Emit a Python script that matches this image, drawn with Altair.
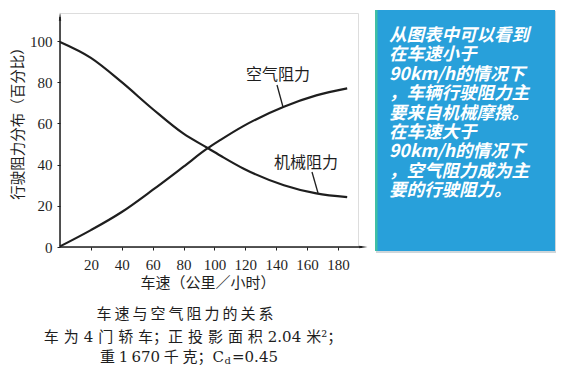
import altair as alt
import pandas as pd

# ---- data ----
speed = [0, 20, 40, 60, 80, 95, 104, 119, 145, 166, 186]
mech_res = [99.5, 91.8, 80, 67, 55, 48.3, 44.3, 38, 30, 26, 24.2]
air_res = [0.3, 8.2, 17, 27.7, 39, 47.6, 52, 58.8, 68.1, 73.6, 77]
x_ticks = [20, 40, 60, 80, 100, 120, 140, 160, 180]
y_ticks = [0, 20, 40, 60, 80, 100]

series_names = ["机械阻力", "空气阻力"]
y_title = "行驶阻力分布（百分比）"
x_title = "车速（公里／小时）"
caption1 = "车\u2009速\u2009与\u2009空\u2009气\u2009阻\u2009力\u2009的\u2009关\u2009系"
caption2 = "车\u2004为\u20044\u2004门\u2004轿\u2004车；正\u2004投\u2004影\u2004面\u2004积\u20042.04\u2004米²；"
caption3a = "重\u20051\u2009670\u2005千\u2005克；C"
caption3b = "d"
caption3c = "=0.45"
box_lines = [
    "从图表中可以看到",
    "在车速小于",
    "90km/h的情况下",
    "，车辆行驶阻力主",
    "要来自机械摩擦。",
    "在车速大于",
    "90km/h的情况下",
    "，空气阻力成为主",
    "要的行驶阻力。",
]

df = pd.DataFrame({
    "speed": speed + speed,
    "value": mech_res + air_res,
    "series": [series_names[0]] * len(speed) + [series_names[1]] * len(speed),
})

W, H = 298, 234
INK = "#1e1e1e"
NUMFONT = "Liberation Serif, Noto Sans CJK SC"
CAPFONT = "DejaVu Serif, Noto Sans CJK SC"
CJK = "Noto Sans CJK SC"
one = alt.Data(values=[{}])


def txt(text, x, y, **kw):
    return alt.Chart(one).mark_text(text=text, **kw).encode(x=alt.value(x), y=alt.value(y))


lines = alt.Chart(df).mark_line(
    color=INK, strokeWidth=2.2, interpolate="monotone"
).encode(
    x=alt.X("speed:Q", scale=alt.Scale(domain=[0, 193], nice=False, zero=False),
            axis=alt.Axis(values=x_ticks, title=None, domain=False, grid=False,
                          tickSize=3, tickColor=INK, labelFont=NUMFONT,
                          labelFontSize=15, labelColor=INK, labelPadding=7)),
    y=alt.Y("value:Q", scale=alt.Scale(domain=[0, 113.6], nice=False),
            axis=alt.Axis(values=y_ticks, title=None, domain=False, grid=False,
                          tickSize=3, tickColor=INK, labelFont=NUMFONT,
                          labelFontSize=15, labelColor=INK, labelPadding=5)),
    detail="series:N",
)

x_axis_line = alt.Chart(one).mark_rule(color=INK, strokeWidth=1.5).encode(
    x=alt.value(0), x2=alt.value(302), y=alt.value(H))
y_axis_line = alt.Chart(one).mark_rule(color=INK, strokeWidth=1.5).encode(
    x=alt.value(0), y=alt.value(H), y2=alt.value(4))
x_arrow = alt.Chart(one).mark_point(shape="wedge", filled=True, size=90, angle=90,
                                    color=INK, opacity=1).encode(
    x=alt.value(302), y=alt.value(H))
y_arrow = alt.Chart(one).mark_point(shape="wedge", filled=True, size=90,
                                    color=INK, opacity=1).encode(
    x=alt.value(0), y=alt.value(5))

leader_air = alt.Chart(one).mark_rule(color=INK, strokeWidth=1.3).encode(
    x=alt.value(217), x2=alt.value(223), y=alt.value(72), y2=alt.value(94))
leader_mech = alt.Chart(one).mark_rule(color=INK, strokeWidth=1.3).encode(
    x=alt.value(252), x2=alt.value(258), y=alt.value(159), y2=alt.value(180))

lab_air = txt(series_names[1], 218, 62, font=CJK, fontSize=16, color=INK)
lab_mech = txt(series_names[0], 246, 150, font=CJK, fontSize=16, color=INK)

ytitle = txt(y_title, -41, 107, font=CJK, fontSize=14.5, color=INK, angle=270)
xtitle = txt(x_title, 148, 270, font=CJK, fontSize=15, color=INK)

cap1 = txt(caption1, 125, 301, font=CAPFONT, fontSize=15, color=INK)
cap2 = txt(caption2, 133, 324, font=CAPFONT, fontSize=15, color=INK)
cap3a = txt(caption3a, 164, 344, font=CAPFONT, fontSize=15, color=INK, align="right")
cap3b = txt(caption3b, 164.5, 348, font=CAPFONT, fontSize=10, color=INK, align="left")
cap3c = txt(caption3c, 172, 344, font=CAPFONT, fontSize=15, color=INK, align="left")

shadow = alt.Chart(one).mark_rect(color="#cfd6da").encode(
    x=alt.value(316), x2=alt.value(496), y=alt.value(-2), y2=alt.value(240))
box = alt.Chart(one).mark_rect(color="#28a0da").encode(
    x=alt.value(315), x2=alt.value(495), y=alt.value(-3), y2=alt.value(238))
stripe = alt.Chart(one).mark_rect(color="#3fbfa6").encode(
    x=alt.value(315), x2=alt.value(317.5), y=alt.value(-3), y2=alt.value(238))
box_text = alt.Chart(one).mark_text(
    text=box_lines, font=CJK, fontSize=17.5, fontWeight="bold", fontStyle="italic",
    color="white", align="left", baseline="top", lineHeight=19.4
).encode(x=alt.value(329), y=alt.value(14))

chart = alt.layer(
    shadow, box, stripe, box_text,
    lines, x_axis_line, y_axis_line, x_arrow, y_arrow,
    leader_air, leader_mech, lab_air, lab_mech,
    ytitle, xtitle, cap1, cap2, cap3a, cap3b, cap3c,
).properties(
    width=W, height=H,
    autosize=alt.AutoSizeParams(type="none"),
    padding={"left": 52, "top": 5, "right": 204, "bottom": 120},
).configure_view(stroke=None).configure(background="white")

chart.save("out.html", embed_options={"renderer": "svg", "actions": False})
